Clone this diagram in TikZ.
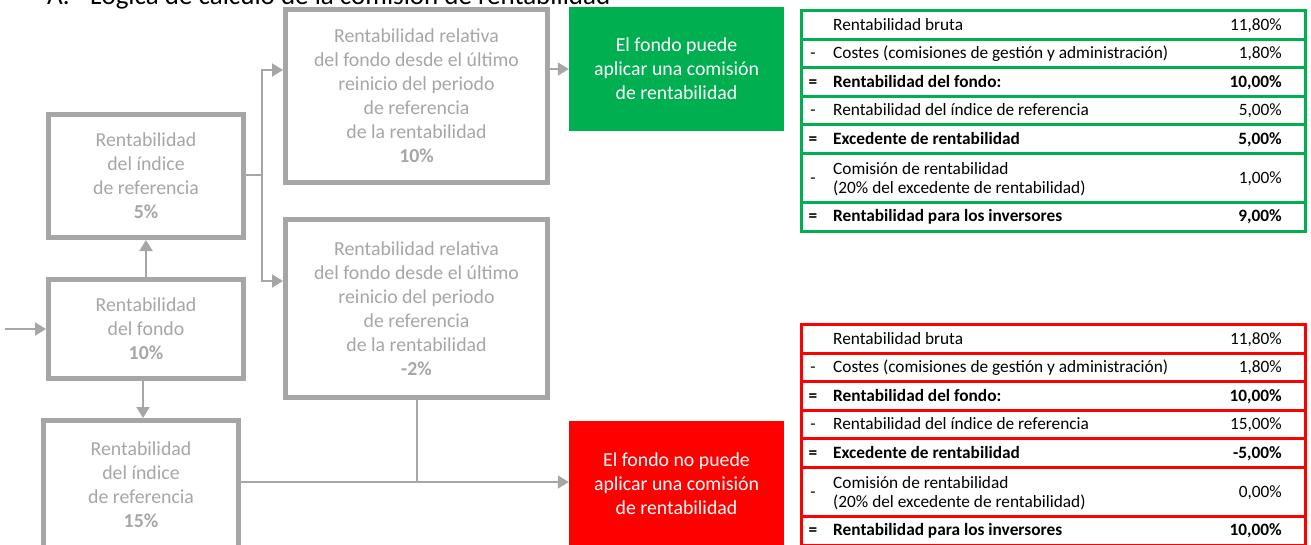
\documentclass[tikz,border=0pt]{standalone}
\usepackage{fontspec}
\setmainfont{Carlito}
\usetikzlibrary{arrows.meta}
\definecolor{gr}{HTML}{A6A6A6}
\definecolor{okgreen}{HTML}{00B050}
\definecolor{nored}{HTML}{FF0000}
\newcommand{\perftable}[7]{%
  \begin{scope}[yshift=-#3pt]
    \draw[tabline=#2] (801.5,10) rectangle (1305.5,231);
    \foreach \yy in {39,67.5,96,124.5,153,202}
      \draw[tabline=#2] (801.5,\yy) -- (1305.5,\yy);
    \node[tl] (#1l1) at (833,25) {Rentabilidad bruta};
    \node[tv] (#1v1) at (1282,25) {11,80\%};
    \node[ts] (#1s2) at (813,53) {-};
    \node[tl] (#1l2) at (833,53) {Costes (comisiones de gestión y administración)};
    \node[tv] (#1v2) at (1282,53) {1,80\%};
    \node[ts] (#1s3) at (813,82) {\textbf{=}};
    \node[tl] (#1l3) at (833,82) {\textbf{Rentabilidad del fondo:}};
    \node[tv] (#1v3) at (1282,82) {\textbf{10,00\%}};
    \node[ts] (#1s4) at (813,110) {-};
    \node[tl] (#1l4) at (833,110) {Rentabilidad del índice de referencia};
    \node[tv] (#1v4) at (1282,110) {#4};
    \node[ts] (#1s5) at (813,139) {\textbf{=}};
    \node[tl] (#1l5) at (833,139) {\textbf{Excedente de rentabilidad}};
    \node[tv] (#1v5) at (1282,139) {\textbf{#5}};
    \node[ts] (#1s6) at (813,178) {-};
    \node[tl2] (#1l6) at (833,177.5) {Comisión de rentabilidad\\(20\% del excedente de rentabilidad)};
    \node[tv] (#1v6) at (1282,178) {#6};
    \node[ts] (#1s7) at (813,216) {\textbf{=}};
    \node[tl] (#1l7) at (833,216) {\textbf{Rentabilidad para los inversores}};
    \node[tv] (#1v7) at (1282,216) {\textbf{#7}};
  \end{scope}}
\begin{document}
\begin{tikzpicture}[x=1pt,y=-1pt,
  graybox/.style={draw=gr, line width=5pt, inner sep=0pt, text=gr, align=center,
    font=\fontsize{19.8}{24}\selectfont},
  decision/.style={fill=#1, draw=none, text=white, align=center, inner sep=0pt,
    minimum width=215pt, font=\fontsize{19.8}{24}\selectfont},
  arr/.style={draw=gr, line width=2pt, -{Triangle[length=11pt,width=13pt]}},
  conn/.style={draw=gr, line width=2pt},
  tabline/.style={draw=#1, line width=3pt},
  tl/.style={anchor=west, inner sep=0pt, yshift=-2.5pt, text height=1.55ex, text depth=.3ex, font=\fontsize{17.3}{20}\selectfont},
  tl2/.style={anchor=west, inner sep=0pt, yshift=-1.5pt, align=left, font=\fontsize{17.3}{19.5}\selectfont},
  tv/.style={anchor=east, inner sep=0pt, yshift=-2.5pt, text height=1.55ex, text depth=.3ex, font=\fontsize{17.3}{20}\selectfont},
  ts/.style={anchor=center, inner sep=0pt, yshift=-2.5pt, text height=1.55ex, text depth=.3ex, font=\fontsize{17.3}{20}\selectfont},
]
\useasboundingbox (0,0) rectangle (1311,544);

% title (cut by the top edge)
\node[anchor=base west, inner sep=0pt, font=\fontsize{27}{31}\selectfont] (titlenum) at (47,4) {A.};
\node[anchor=base west, inner sep=0pt, font=\fontsize{27}{31}\selectfont] (title) at (90,4) {Lógica de cálculo de la comisión de rentabilidad};

% gray boxes
\node[graybox, minimum width=195pt, minimum height=123pt] (idx5) at (146,176)
  {Rentabilidad\\del índice\\de referencia\\\textbf{5\%}};
\node[graybox, minimum width=195pt, minimum height=99pt] (fondo) at (146,329)
  {Rentabilidad\\del fondo\\\textbf{10\%}};
\node[graybox, minimum width=195pt, minimum height=129pt] (idx15) at (141,485)
  {Rentabilidad\\del índice\\de referencia\\\textbf{15\%}};
\node[graybox, minimum width=262pt, minimum height=173pt] (rel10) at (416.5,96)
  {Rentabilidad relativa\\del fondo desde el último\\reinicio del periodo\\de referencia\\de la rentabilidad\\\textbf{10\%}};
\node[graybox, minimum width=262pt, minimum height=178pt] (relm2) at (416.5,308.5)
  {Rentabilidad relativa\\del fondo desde el último\\reinicio del periodo\\de referencia\\de la rentabilidad\\\textbf{-2\%}};

% decision boxes
\node[decision=okgreen, minimum height=124pt] (yes) at (676.5,69)
  {El fondo puede\\aplicar una comisión\\de rentabilidad};
\node[decision=nored, minimum height=126pt] (no) at (676.5,484)
  {El fondo no puede\\aplicar una comisión\\de rentabilidad};

% connectors
\coordinate (in) at (5,329);
\coordinate (split) at (262,175);
\draw[arr] (in) -- (fondo.west);
\draw[arr] (fondo.north) -- (idx5.south);
\draw[arr] ([xshift=-3pt]fondo.south) -- ([xshift=-3pt]fondo.south |- idx15.north);
\draw[conn] (idx5.east |- split) -- (split);
\draw[arr] (split) |- (rel10.west |- 0,70);
\draw[arr] (split) |- (relm2.west |- 0,281);
\draw[arr] (rel10.east |- yes.west) -- (yes.west);
\draw[arr] (idx15.east |- 0,482) -- (no.west |- 0,482);
\draw[conn] (relm2.south) -- (relm2.south |- 0,482);

% result tables
\perftable{g}{okgreen}{0}{5,00\%}{5,00\%}{1,00\%}{9,00\%}
\perftable{r}{nored}{314}{15,00\%}{-5,00\%}{0,00\%}{10,00\%}
\end{tikzpicture}
\end{document}
